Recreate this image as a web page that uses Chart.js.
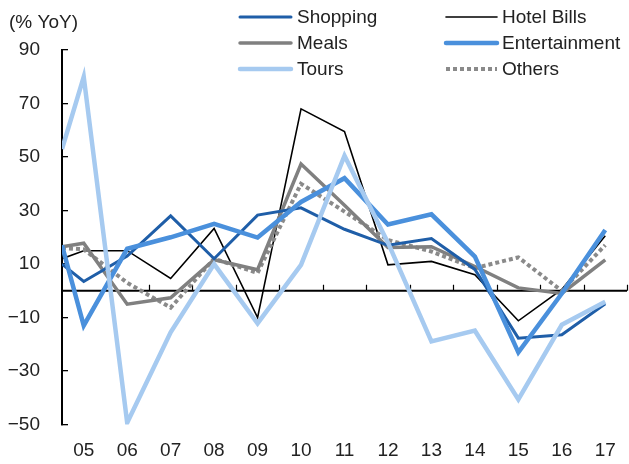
<!DOCTYPE html>
<html lang="en">
<head>
<meta charset="UTF-8">
<title>Spending YoY</title>
<style>
  * { margin: 0; padding: 0; box-sizing: border-box; }
  body { background: #fff; }
  .chartbox { width: 629px; height: 464px; }
</style>
</head>
<body>
<div class="chartbox">
  <canvas id="myChart" width="629" height="464"></canvas>
</div>

<script src="https://cdn.jsdelivr.net/npm/chart.js"></script>
<script>
// data
const periods = [4.5, 5, 6, 7, 8, 9, 10, 11, 12, 13, 14, 15, 16, 17];
const xLabels = ['05', '06', '07', '08', '09', '10', '11', '12', '13', '14', '15', '16', '17'];
const yTicks = [90, 70, 50, 30, 10, -10, -30, -50];

const shopping      = [10, 3.5, 13, 28, 12, 28.3, 31, 23, 17, 19.5, 8, -17.7, -16.4, -4.8];
const hotelBills    = [12, 15, 15, 4.6, 23.3, -10, 68, 59.5, 9.7, 11, 6, -11.2, 0.5, 20.6];
const meals         = [16.5, 17.8, -5, -2.6, 11.6, 7.9, 47.4, 32, 16.2, 16.5, 9.1, 1.1, -1, 11.6];
const entertainment = [17, -13, 15.7, 20, 25, 19.9, 33.2, 42.1, 24.8, 28.6, 12.8, -23, -1, 22.7];
const tours         = [53, 80, -49.3, -15.5, 10, -12.2, 9.7, 50.5, 18, -18.9, -14.9, -40.6, -12.7, -4.1];
const others        = [16, 15.5, 3, -6.3, 12, 6.7, 40, 29.6, 19, 14.7, 8.5, 12.5, 0, 17.1];

const FONT = '"Liberation Sans", Arial, sans-serif';
const TXT = '#222';

function pts(vals) {
  return vals.map((v, i) => ({x: periods[i], y: v}));
}

//Setup block
const data = {
  datasets: [
    {label: 'Shopping', data: pts(shopping), borderColor: '#1f5ea8', borderWidth: 3, order: 2},
    {label: 'Hotel Bills', data: pts(hotelBills), borderColor: '#000000', borderWidth: 1.6, order: 5},
    {label: 'Meals', data: pts(meals), borderColor: '#808080', borderWidth: 3.5, order: 3},
    {label: 'Entertainment', data: pts(entertainment), borderColor: '#4a90dc', borderWidth: 4.5, order: 1},
    {label: 'Tours', data: pts(tours), borderColor: '#a6caf0', borderWidth: 4.5, order: 0},
    {label: 'Others', data: pts(others), borderColor: '#8a8a8a', borderWidth: 4, borderDash: [4, 3], borderCapStyle: 'butt', order: 4}
  ]
};

// zero line, boundary ticks, title and legend
const decor = {
  id: 'decor',
  beforeDatasetsDraw(chart) {
    const {ctx, chartArea, scales: {x, y}} = chart;
    const y0 = y.getPixelForValue(0);
    ctx.save();
    ctx.strokeStyle = '#000';
    ctx.lineWidth = 2;
    ctx.beginPath();
    ctx.moveTo(chartArea.left, y0);
    ctx.lineTo(chartArea.right, y0);
    ctx.stroke();
    ctx.lineWidth = 1.2;
    ctx.beginPath();
    periods.slice(1).forEach(p => {
      const px = Math.round(x.getPixelForValue(p + 0.5)) + 0.5;
      ctx.moveTo(px, y0);
      ctx.lineTo(px, y0 - 6);
    });
    ctx.stroke();
    ctx.restore();
  },
  afterDraw(chart) {
    const ctx = chart.ctx;
    ctx.save();
    ctx.font = '19px ' + FONT;
    ctx.fillStyle = TXT;
    ctx.textBaseline = 'middle';
    ctx.textAlign = 'left';
    ctx.fillText('(% YoY)', 9, 23);

    const cols = [{x0: 240, x1: 291, tx: 297}, {x0: 446, x1: 497, tx: 502}];
    chart.data.datasets.forEach((ds, i) => {
      const c = cols[i % 2];
      const ly = 17 + Math.floor(i / 2) * 26;
      ctx.beginPath();
      ctx.strokeStyle = ds.borderColor;
      ctx.lineWidth = ds.borderWidth;
      ctx.setLineDash(ds.borderDash || []);
      ctx.lineCap = ds.borderDash ? 'butt' : 'round';
      ctx.moveTo(c.x0, ly);
      ctx.lineTo(c.x1, ly);
      ctx.stroke();
      ctx.fillText(ds.label, c.tx, ly + 1);
    });
    ctx.restore();
  }
};

//Config block
const config = {
  type: 'line',
  data,
  options: {
    responsive: false,
    animation: false,
    layout: {padding: {top: 50, right: 2, left: 0, bottom: 0}},
    elements: {
      line: {tension: 0, fill: false},
      point: {radius: 0, hoverRadius: 0}
    },
    plugins: {
      legend: {display: false},
      tooltip: {enabled: false}
    },
    scales: {
      x: {
        type: 'linear',
        min: 4.5,
        max: 17.5,
        afterBuildTicks: s => { s.ticks = periods.slice(1).map(v => ({value: v})); },
        afterFit: s => { s.height = 36; },
        grid: {display: false},
        border: {display: false},
        ticks: {
          autoSkip: false,
          maxRotation: 0,
          padding: 7,
          color: TXT,
          font: {family: FONT, size: 19},
          callback: (v, i) => xLabels[i]
        }
      },
      y: {
        min: -50,
        max: 90,
        afterBuildTicks: s => { s.ticks = yTicks.slice().reverse().map(v => ({value: v})); },
        afterFit: s => { s.width = 62; },
        grid: {drawOnChartArea: false, drawTicks: true, tickLength: -6, color: '#000', lineWidth: 1.3},
        border: {display: true, color: '#000', width: 2},
        ticks: {
          padding: 28,
          color: TXT,
          font: {family: FONT, size: 19},
          callback: v => String(v).replace('-', '\u2212')
        }
      }
    }
  },
  plugins: [decor]
};

//Init Render block
const myChart = new Chart(document.getElementById('myChart'), config);
</script>
</body>
</html>
